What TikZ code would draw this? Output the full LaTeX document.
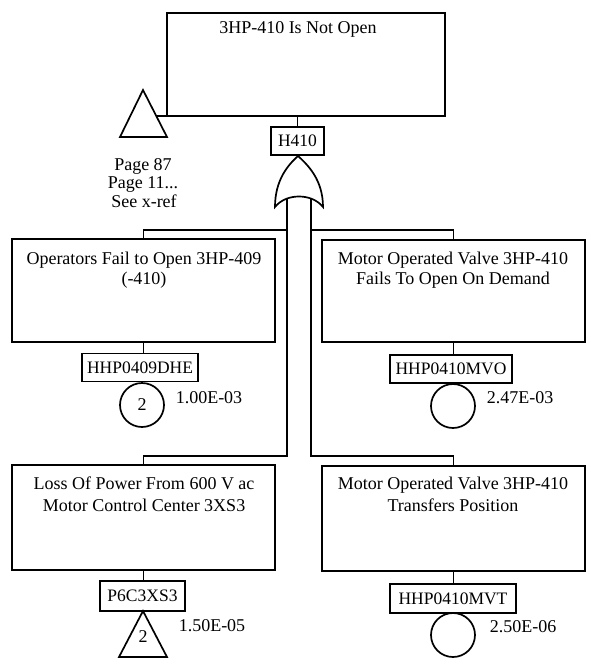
\documentclass[tikz,border=0pt]{standalone}
\usepackage{fontspec}
\setmainfont{Liberation Serif}
\begin{document}
\begin{tikzpicture}[x=1pt,y=-1pt,line width=1.7pt,
  txtfont/.style={font=\fontsize{18}{20}\selectfont},
  evbox/.style={draw,inner sep=0pt},
  idbox/.style={draw,line width=1.4pt,inner sep=0pt,minimum height=28pt,font=\fontsize{17.5}{20}\selectfont},
  lbl/.style={inner sep=0pt,align=center,txtfont},
  basic/.style={draw,circle,minimum size=44pt,inner sep=0pt,txtfont}]
\useasboundingbox (0,0) rectangle (590,665);

% top event
\node[evbox,minimum width=278pt,minimum height=103pt] (top) at (306,64.5) {};
\node[lbl,anchor=base] (title) at (298,33) {3HP-410 Is Not Open};
\draw (143,90) -- (167,137) -- (120,137) -- cycle;
\coordinate (t1) at (156,116);
\draw (t1) -- (t1 -| top.west);
\node[lbl,anchor=base] (xref1) at (143,170) {Page 87};
\node[lbl,anchor=base] (xref2) at (143,188.5) {Page 11...};
\node[lbl,anchor=base] (xref3) at (144,207) {See x-ref};

% gate
\node[idbox,minimum width=53pt] (h410) at (297.5,141) {H410};
\draw (h410.north) -- (h410.north |- top.south);
\coordinate (gtop) at (298,156);
\draw (h410.south) -- (gtop);
\draw[fill=white] (275,207) .. controls (275,180) and (288,165) .. (gtop)
  .. controls (308,165) and (323,180) .. (323,207)
  .. controls (312,193) and (286,193) .. (275,207) -- cycle;
\coordinate (gl) at (287,198);
\coordinate (gr) at (311,198);
\coordinate (jl) at (287,230);
\coordinate (jl2) at (287,456);
\coordinate (jr) at (311,230);
\coordinate (jr2) at (311,456);

% boxes
\node[evbox,minimum width=263pt,minimum height=103pt] (b1) at (143.5,290.5) {};
\node[evbox,minimum width=263pt,minimum height=102pt] (b2) at (453.5,291) {};
\node[evbox,minimum width=263pt,minimum height=105pt] (b3) at (143.5,517.5) {};
\node[evbox,minimum width=263pt,minimum height=105pt] (b4) at (453.5,518.5) {};

\node[lbl,anchor=base] (t1a) at (144,264) {Operators Fail to Open 3HP-409};
\node[lbl,anchor=base] (t1b) at (144,284) {(-410)};
\node[lbl,anchor=base] (t2a) at (453,264) {Motor Operated Valve 3HP-410};
\node[lbl,anchor=base] (t2b) at (453,284) {Fails To Open On Demand};
\node[lbl,anchor=base] (t3a) at (144,489) {Loss Of Power From 600 V ac};
\node[lbl,anchor=base] (t3b) at (144,511) {Motor Control Center 3XS3};
\node[lbl,anchor=base] (t4a) at (453,489) {Motor Operated Valve 3HP-410};
\node[lbl,anchor=base] (t4b) at (453,511) {Transfers Position};

% connectors
\draw (gl) -- (jl2) -| (b3.north);
\draw (jl) -| (b1.north);
\draw (gr) -- (jr2) -| (b4.north);
\draw (jr) -| (b2.north);

% basic events
\node[idbox,minimum width=116pt] (e1) at (140,367.5) {HHP0409DHE};
\draw (b1.south) -- (b1.south |- e1.north);
\node[basic] (c1) at (142,405) {2};
\node[lbl] (p1) at (209,398) {1.00E-03};

\node[idbox,minimum width=122pt] (e2) at (451,369) {HHP0410MVO};
\draw (b2.south) -- (b2.south |- e2.north);
\node[basic] (c2) at (453,406) {};
\node[lbl] (p2) at (520,398) {2.47E-03};

\node[idbox,minimum width=85pt,minimum height=30pt] (e3) at (142.5,596) {P6C3XS3};
\draw (b3.south) -- (b3.south |- e3.north);
\draw (143,611) -- (167,657) -- (119,657) -- cycle;
\node[lbl] (tr2) at (143,637) {2};
\node[lbl] (p3) at (212,626) {1.50E-05};

\node[idbox,minimum width=126pt,minimum height=29pt] (e4) at (453,598.5) {HHP0410MVT};
\draw (b4.south) -- (b4.south |- e4.north);
\node[basic] (c4) at (453,635) {};
\node[lbl] (p4) at (523,627) {2.50E-06};
\end{tikzpicture}
\end{document}
